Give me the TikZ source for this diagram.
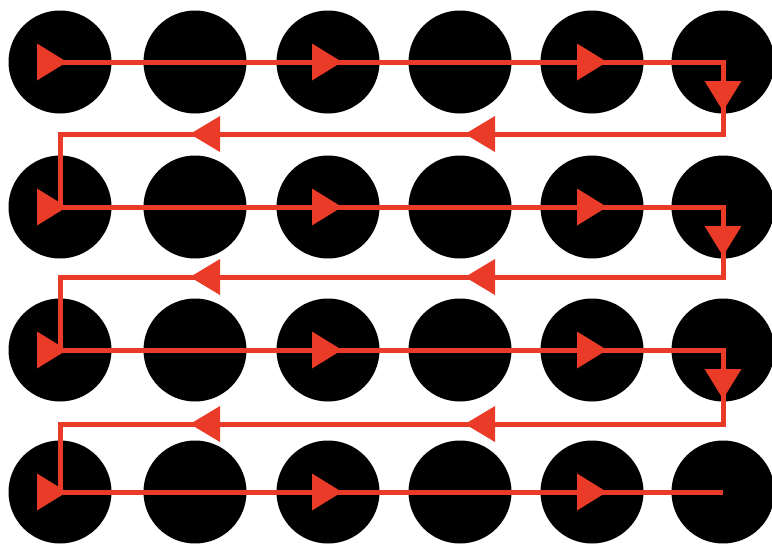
\documentclass[tikz,border=0pt]{standalone}
\usepackage{tikz}
\usetikzlibrary{calc}
\definecolor{vermell}{RGB}{234,58,40}

\begin{document}
\begin{tikzpicture}[x=1pt, y=-1pt,
    disc/.style={circle, fill=black, minimum size=103pt, inner sep=0pt},
    recorregut/.style={vermell, line width=5pt}]
    % 1. FULL
    \useasboundingbox (0,0) rectangle (772,547);

    % 2. CERCLES (4 files de 6)
    \foreach \r/\y in {1/62, 2/207, 3/350, 4/492} {
        \foreach \c/\x in {1/60, 2/195, 3/328, 4/460, 5/592, 6/723} {
            \node[disc] (c-\r-\c) at (\x, \y) {};
        }
    }

    % 3. RECORREGUT EN ZIGA-ZAGA
    \coordinate (inici) at ($(c-1-1)+(-23,0)$);
    \coordinate (tornada-1) at (0, 134);
    \coordinate (tornada-2) at (0, 277);
    \coordinate (tornada-3) at (0, 424);
    \draw[recorregut] (inici) -- (c-1-6.center)
        -- (c-1-6.center |- tornada-1) -- (c-2-1.center |- tornada-1) -- (c-2-1.center)
        -- (c-2-6.center)
        -- (c-2-6.center |- tornada-2) -- (c-3-1.center |- tornada-2) -- (c-3-1.center)
        -- (c-3-6.center)
        -- (c-3-6.center |- tornada-3) -- (c-4-1.center |- tornada-3) -- (c-4-1.center)
        -- (c-4-6.center);

    % 4. PUNTES CAP A LA DRETA
    \foreach \r in {1,...,4} {
        \foreach \c/\dx in {1/7, 3/14, 5/15} {
            \fill[vermell] ($(c-\r-\c)+(\dx,0)$) -- ++(-30,-18.5) -- ++(0,37) -- cycle;
        }
    }

    % 5. PUNTES CAP A L'ESQUERRA (tornades)
    \foreach \t in {1,2,3} {
        \foreach \x in {190, 465} {
            \fill[vermell] ($(tornada-\t)+(\x,0)$) -- ++(30,-18) -- ++(0,36) -- cycle;
        }
    }

    % 6. PUNTES CAP AVALL (costat dret)
    \foreach \r in {1,2,3} {
        \fill[vermell] ($(c-\r-6)+(0,49)$) -- ++(-18.5,-30) -- ++(37,0) -- cycle;
    }

\end{tikzpicture}
\end{document}
